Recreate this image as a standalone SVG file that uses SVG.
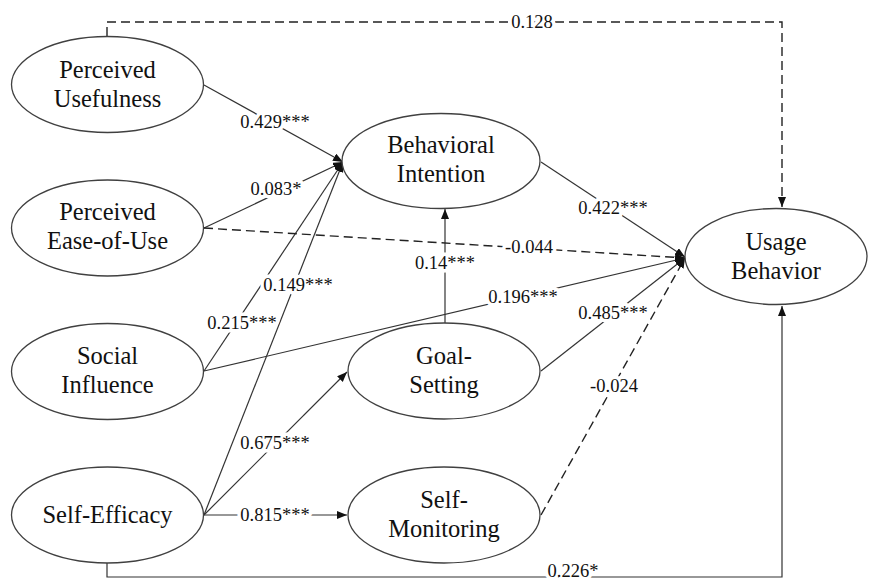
<svg xmlns="http://www.w3.org/2000/svg" width="869" height="582" viewBox="0 0 869 582">
<style>
.node ellipse{fill:#fff;stroke:#404040;stroke-width:1.3}
.node text{font-family:"Liberation Serif","Times New Roman",serif;font-size:24.5px;fill:#111;text-anchor:middle}
.edge{fill:none;stroke:#333;stroke-width:1.2}
.dash{stroke-dasharray:9,5;stroke-width:1.4;stroke:#222}
.lbl{font-family:"Liberation Serif","Times New Roman",serif;font-size:18.5px;fill:#111;text-anchor:middle;stroke:#fff;stroke-width:7;paint-order:stroke;stroke-linejoin:round}
</style>
<defs>
<marker id="ah" markerUnits="userSpaceOnUse" markerWidth="11" markerHeight="9" refX="10" refY="4" orient="auto">
<path d="M0,0 L10,4 L0,8 Z" fill="#111"/>
</marker>
</defs>
<rect width="869" height="582" fill="#fff"/>
<g id="connectors">
<path class="edge" d="M204,85 L343,162" marker-end="url(#ah)"/>
<path class="edge" d="M204,228 L343,162" marker-end="url(#ah)"/>
<path class="edge" d="M204,371 L343,162" marker-end="url(#ah)"/>
<path class="edge" d="M204,515 L343,162" marker-end="url(#ah)"/>
<path class="edge" d="M204,515 L347,372" marker-end="url(#ah)"/>
<path class="edge" d="M204,515 L347,515" marker-end="url(#ah)"/>
<path class="edge" d="M445,323 L445,209" marker-end="url(#ah)"/>
<path class="edge" d="M541,162 L685,257" marker-end="url(#ah)"/>
<path class="edge dash" d="M204,228 L685,258" marker-end="url(#ah)"/>
<path class="edge" d="M204,371 L685,258" marker-end="url(#ah)"/>
<path class="edge" d="M541,371 L685,258" marker-end="url(#ah)"/>
<path class="edge dash" d="M541,515 L685,258" marker-end="url(#ah)"/>
<path class="edge dash" d="M107,36 L107,22 L782,22 L782,207" marker-end="url(#ah)"/>
<path class="edge" d="M107,563 L107,577 L782,577 L782,306" marker-end="url(#ah)"/>
<text class="lbl" x="275" y="128">0.429***</text>
<text class="lbl" x="276" y="195">0.083*</text>
<text class="lbl" x="242" y="329">0.215***</text>
<text class="lbl" x="298" y="291">0.149***</text>
<text class="lbl" x="275" y="449">0.675***</text>
<text class="lbl" x="275" y="521">0.815***</text>
<text class="lbl" x="445" y="269">0.14***</text>
<text class="lbl" x="613" y="214">0.422***</text>
<text class="lbl" x="529" y="253">-0.044</text>
<text class="lbl" x="523" y="303">0.196***</text>
<text class="lbl" x="613" y="319">0.485***</text>
<text class="lbl" x="614" y="392">-0.024</text>
<text class="lbl" x="532" y="28">0.128</text>
<text class="lbl" x="573" y="577">0.226*</text>
</g>
<g id="perceived-usefulness" class="node">
<ellipse cx="107.5" cy="84.5" rx="96" ry="48"/>
<text x="107.5" y="78">Perceived</text>
<text x="107.5" y="107">Usefulness</text>
</g>
<g id="perceived-ease-of-use" class="node">
<ellipse cx="107.5" cy="228" rx="96" ry="48"/>
<text x="107.5" y="220">Perceived</text>
<text x="107.5" y="249">Ease-of-Use</text>
</g>
<g id="social-influence" class="node">
<ellipse cx="107.5" cy="371.5" rx="96" ry="48"/>
<text x="107.5" y="364">Social</text>
<text x="107.5" y="393">Influence</text>
</g>
<g id="self-efficacy" class="node">
<ellipse cx="107.5" cy="515" rx="96" ry="48"/>
<text x="107.5" y="523">Self-Efficacy</text>
</g>
<g id="behavioral-intention" class="node">
<ellipse cx="441" cy="161" rx="99" ry="47.5"/>
<text x="441" y="153">Behavioral</text>
<text x="441" y="182">Intention</text>
</g>
<g id="goal-setting" class="node">
<ellipse cx="444" cy="371" rx="96" ry="48"/>
<text x="444" y="364">Goal-</text>
<text x="444" y="393">Setting</text>
</g>
<g id="self-monitoring" class="node">
<ellipse cx="444" cy="515" rx="96" ry="48"/>
<text x="444" y="508">Self-</text>
<text x="444" y="537">Monitoring</text>
</g>
<g id="usage-behavior" class="node">
<ellipse cx="776" cy="256.5" rx="91" ry="48"/>
<text x="776" y="250">Usage</text>
<text x="776" y="279">Behavior</text>
</g>
</svg>
